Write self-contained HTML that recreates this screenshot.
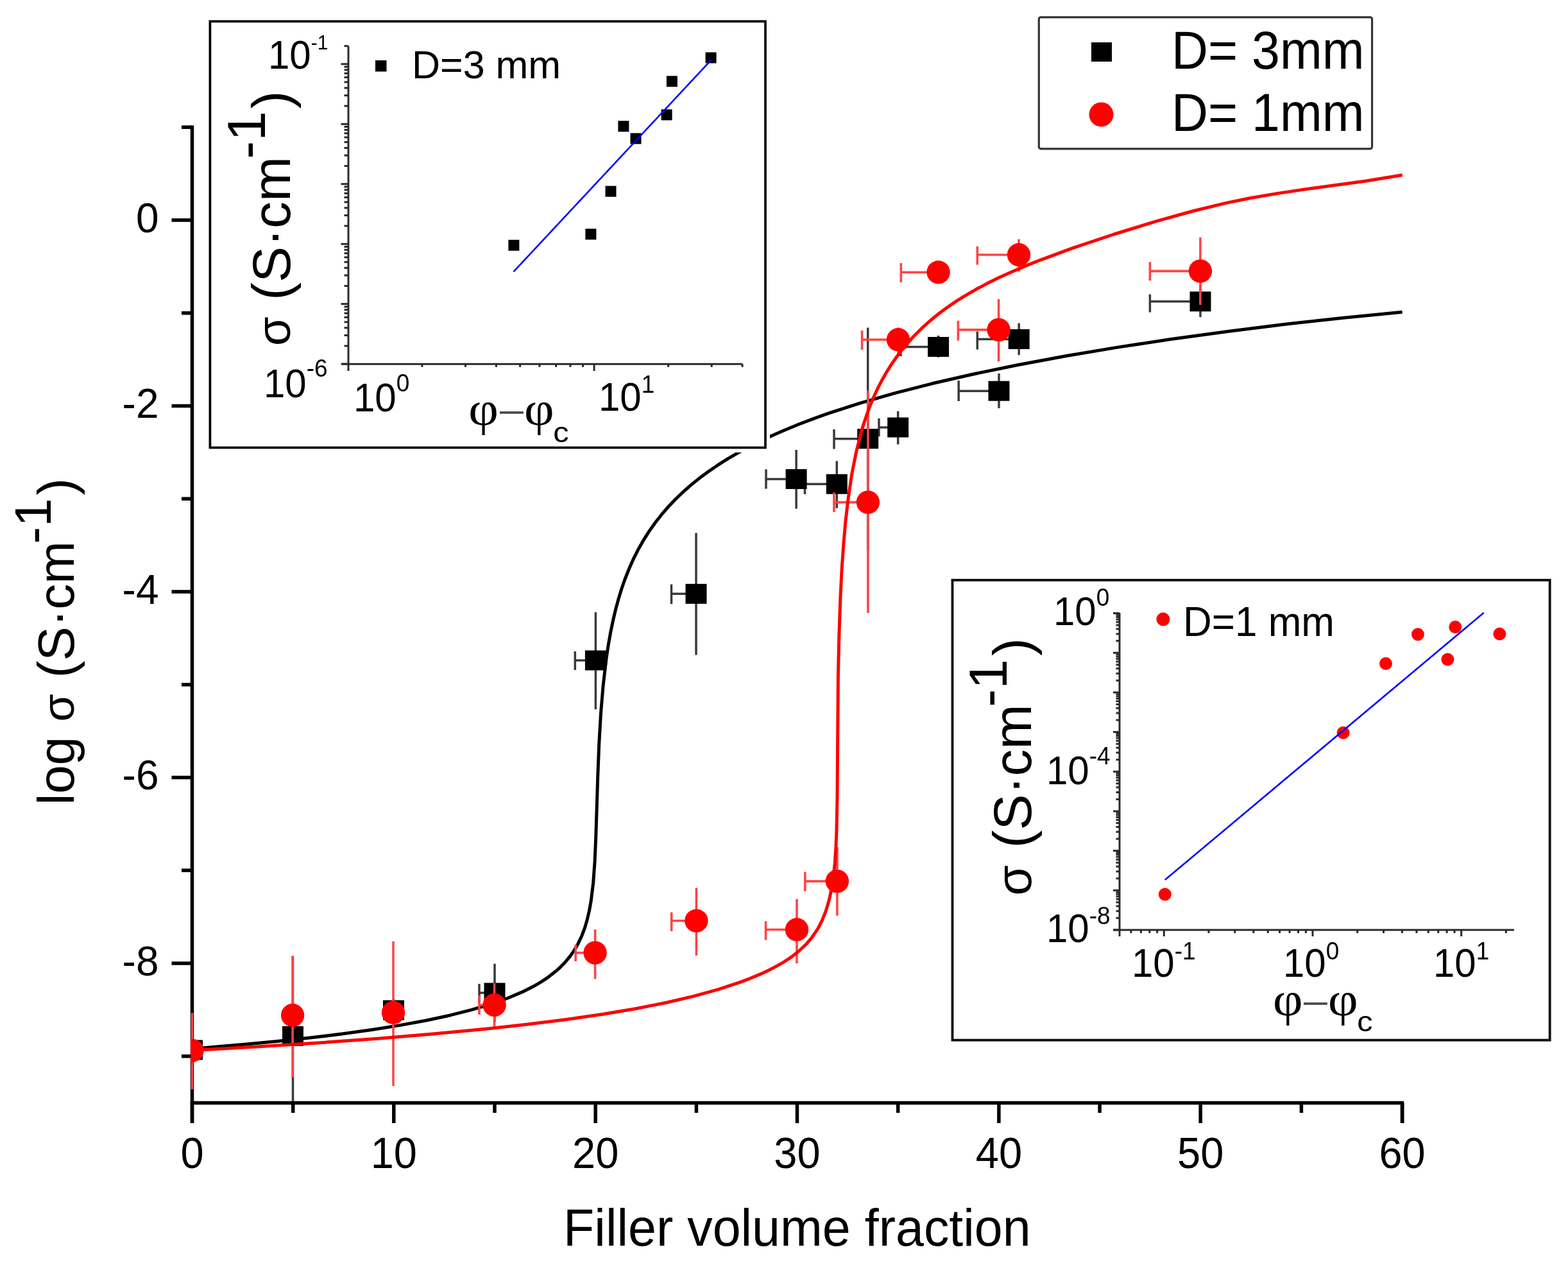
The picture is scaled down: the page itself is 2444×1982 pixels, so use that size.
<!DOCTYPE html>
<html><head><meta charset="utf-8"><title>Filler volume fraction plot</title>
<style>html,body{margin:0;padding:0;background:#fff;}svg{display:block;}</style></head>
<body><svg width="2444" height="1982" viewBox="0 0 2444 1982">
<rect width="2444" height="1982" fill="#fff"/>
<g id="main-axes">
<line x1="299.5" y1="195.5" x2="299.5" y2="1750.0" stroke="#000" stroke-width="5.5" stroke-linecap="butt"/>
<line x1="296.8" y1="1718.5" x2="2188.2" y2="1718.5" stroke="#000" stroke-width="5.5" stroke-linecap="butt"/>
<line x1="299.5" y1="1718.5" x2="299.5" y2="1750.0" stroke="#000" stroke-width="5.5" stroke-linecap="butt"/>
<line x1="613.8" y1="1718.5" x2="613.8" y2="1750.0" stroke="#000" stroke-width="5.5" stroke-linecap="butt"/>
<line x1="928.2" y1="1718.5" x2="928.2" y2="1750.0" stroke="#000" stroke-width="5.5" stroke-linecap="butt"/>
<line x1="1242.5" y1="1718.5" x2="1242.5" y2="1750.0" stroke="#000" stroke-width="5.5" stroke-linecap="butt"/>
<line x1="1556.9" y1="1718.5" x2="1556.9" y2="1750.0" stroke="#000" stroke-width="5.5" stroke-linecap="butt"/>
<line x1="1871.2" y1="1718.5" x2="1871.2" y2="1750.0" stroke="#000" stroke-width="5.5" stroke-linecap="butt"/>
<line x1="2185.6" y1="1718.5" x2="2185.6" y2="1750.0" stroke="#000" stroke-width="5.5" stroke-linecap="butt"/>
<line x1="456.7" y1="1718.5" x2="456.7" y2="1734.0" stroke="#000" stroke-width="5.5" stroke-linecap="butt"/>
<line x1="771.0" y1="1718.5" x2="771.0" y2="1734.0" stroke="#000" stroke-width="5.5" stroke-linecap="butt"/>
<line x1="1085.4" y1="1718.5" x2="1085.4" y2="1734.0" stroke="#000" stroke-width="5.5" stroke-linecap="butt"/>
<line x1="1399.7" y1="1718.5" x2="1399.7" y2="1734.0" stroke="#000" stroke-width="5.5" stroke-linecap="butt"/>
<line x1="1714.1" y1="1718.5" x2="1714.1" y2="1734.0" stroke="#000" stroke-width="5.5" stroke-linecap="butt"/>
<line x1="2028.4" y1="1718.5" x2="2028.4" y2="1734.0" stroke="#000" stroke-width="5.5" stroke-linecap="butt"/>
<line x1="267.5" y1="343.0" x2="299.5" y2="343.0" stroke="#000" stroke-width="5.5" stroke-linecap="butt"/>
<line x1="267.5" y1="632.5" x2="299.5" y2="632.5" stroke="#000" stroke-width="5.5" stroke-linecap="butt"/>
<line x1="267.5" y1="922.0" x2="299.5" y2="922.0" stroke="#000" stroke-width="5.5" stroke-linecap="butt"/>
<line x1="267.5" y1="1211.5" x2="299.5" y2="1211.5" stroke="#000" stroke-width="5.5" stroke-linecap="butt"/>
<line x1="267.5" y1="1501.0" x2="299.5" y2="1501.0" stroke="#000" stroke-width="5.5" stroke-linecap="butt"/>
<line x1="283.0" y1="198.2" x2="299.5" y2="198.2" stroke="#000" stroke-width="5.5" stroke-linecap="butt"/>
<line x1="283.0" y1="487.8" x2="299.5" y2="487.8" stroke="#000" stroke-width="5.5" stroke-linecap="butt"/>
<line x1="283.0" y1="777.2" x2="299.5" y2="777.2" stroke="#000" stroke-width="5.5" stroke-linecap="butt"/>
<line x1="283.0" y1="1066.8" x2="299.5" y2="1066.8" stroke="#000" stroke-width="5.5" stroke-linecap="butt"/>
<line x1="283.0" y1="1356.2" x2="299.5" y2="1356.2" stroke="#000" stroke-width="5.5" stroke-linecap="butt"/>
<line x1="283.0" y1="1645.8" x2="299.5" y2="1645.8" stroke="#000" stroke-width="5.5" stroke-linecap="butt"/>
<line x1="2185.6" y1="1718.5" x2="2185.6" y2="1750.0" stroke="#000" stroke-width="5.5" stroke-linecap="butt"/>
</g>
<text x="247.5" y="361.5" font-family='"Liberation Sans", Arial, sans-serif' font-size="64" text-anchor="end" fill="#000">0</text>
<text x="247.5" y="651.0" font-family='"Liberation Sans", Arial, sans-serif' font-size="64" text-anchor="end" fill="#000">-2</text>
<text x="247.5" y="940.5" font-family='"Liberation Sans", Arial, sans-serif' font-size="64" text-anchor="end" fill="#000">-4</text>
<text x="247.5" y="1230.0" font-family='"Liberation Sans", Arial, sans-serif' font-size="64" text-anchor="end" fill="#000">-6</text>
<text x="247.5" y="1519.5" font-family='"Liberation Sans", Arial, sans-serif' font-size="64" text-anchor="end" fill="#000">-8</text>
<text transform="translate(299.5,1819.5) scale(1,1.045)" font-family='"Liberation Sans", Arial, sans-serif' font-size="65" text-anchor="middle" fill="#000">0</text>
<text transform="translate(613.8,1819.5) scale(1,1.045)" font-family='"Liberation Sans", Arial, sans-serif' font-size="65" text-anchor="middle" fill="#000">10</text>
<text transform="translate(928.2,1819.5) scale(1,1.045)" font-family='"Liberation Sans", Arial, sans-serif' font-size="65" text-anchor="middle" fill="#000">20</text>
<text transform="translate(1242.5,1819.5) scale(1,1.045)" font-family='"Liberation Sans", Arial, sans-serif' font-size="65" text-anchor="middle" fill="#000">30</text>
<text transform="translate(1556.9,1819.5) scale(1,1.045)" font-family='"Liberation Sans", Arial, sans-serif' font-size="65" text-anchor="middle" fill="#000">40</text>
<text transform="translate(1871.2,1819.5) scale(1,1.045)" font-family='"Liberation Sans", Arial, sans-serif' font-size="65" text-anchor="middle" fill="#000">50</text>
<text transform="translate(2185.6,1819.5) scale(1,1.045)" font-family='"Liberation Sans", Arial, sans-serif' font-size="65" text-anchor="middle" fill="#000">60</text>
<text transform="translate(1242.4,1940.9) scale(1,1.04)" font-family='"Liberation Sans", Arial, sans-serif' font-size="79" text-anchor="middle" fill="#000">Filler volume fraction</text>
<text transform="translate(115.3,1254.4) rotate(-90)" font-family='"Liberation Sans", Arial, sans-serif' font-size="80">log</text>
<text transform="translate(115.3,1124.5) rotate(-90)" font-family='"Liberation Sans", Arial, sans-serif' font-size="70">σ</text>
<text transform="translate(115.3,1056.3) rotate(-90)" font-family='"Liberation Sans", Arial, sans-serif' font-size="80">(S·cm</text>
<text transform="translate(79.0,847.4) rotate(-90)" font-family='"Liberation Sans", Arial, sans-serif' font-size="80">-1</text>
<text transform="translate(115.3,771.8) rotate(-90)" font-family='"Liberation Sans", Arial, sans-serif' font-size="80">)</text>
<defs><clipPath id="plotclip"><rect x="297" y="190" width="1892" height="1526"/></clipPath></defs>
<g clip-path="url(#plotclip)">
<line x1="456.5" y1="1490.0" x2="456.5" y2="1735.0" stroke="#3a3a3a" stroke-width="3.5" stroke-linecap="butt"/>
<line x1="613.5" y1="1556.0" x2="613.5" y2="1592.0" stroke="#3a3a3a" stroke-width="3.5" stroke-linecap="butt"/>
<line x1="771.0" y1="1501.6" x2="771.0" y2="1592.0" stroke="#3a3a3a" stroke-width="3.5" stroke-linecap="butt"/>
<line x1="747.0" y1="1547.0" x2="771.0" y2="1547.0" stroke="#3a3a3a" stroke-width="3.5" stroke-linecap="butt"/>
<line x1="747.0" y1="1533.0" x2="747.0" y2="1563.0" stroke="#3a3a3a" stroke-width="3.5" stroke-linecap="butt"/>
<line x1="928.4" y1="954.1" x2="928.4" y2="1105.2" stroke="#3a3a3a" stroke-width="3.5" stroke-linecap="butt"/>
<line x1="896.3" y1="1029.0" x2="928.4" y2="1029.0" stroke="#3a3a3a" stroke-width="3.5" stroke-linecap="butt"/>
<line x1="896.3" y1="1015.0" x2="896.3" y2="1044.0" stroke="#3a3a3a" stroke-width="3.5" stroke-linecap="butt"/>
<line x1="1085.0" y1="830.4" x2="1085.0" y2="1020.5" stroke="#3a3a3a" stroke-width="3.5" stroke-linecap="butt"/>
<line x1="1046.5" y1="925.3" x2="1085.0" y2="925.3" stroke="#3a3a3a" stroke-width="3.5" stroke-linecap="butt"/>
<line x1="1046.5" y1="910.5" x2="1046.5" y2="941.0" stroke="#3a3a3a" stroke-width="3.5" stroke-linecap="butt"/>
<line x1="1241.1" y1="701.0" x2="1241.1" y2="792.7" stroke="#3a3a3a" stroke-width="3.5" stroke-linecap="butt"/>
<line x1="1194.0" y1="746.5" x2="1241.1" y2="746.5" stroke="#3a3a3a" stroke-width="3.5" stroke-linecap="butt"/>
<line x1="1194.0" y1="731.3" x2="1194.0" y2="761.6" stroke="#3a3a3a" stroke-width="3.5" stroke-linecap="butt"/>
<line x1="1304.3" y1="718.4" x2="1304.3" y2="791.8" stroke="#3a3a3a" stroke-width="3.5" stroke-linecap="butt"/>
<line x1="1254.5" y1="754.3" x2="1304.3" y2="754.3" stroke="#3a3a3a" stroke-width="3.5" stroke-linecap="butt"/>
<line x1="1254.5" y1="740.0" x2="1254.5" y2="770.0" stroke="#3a3a3a" stroke-width="3.5" stroke-linecap="butt"/>
<line x1="1352.7" y1="510.4" x2="1352.7" y2="857.0" stroke="#3a3a3a" stroke-width="3.5" stroke-linecap="butt"/>
<line x1="1300.0" y1="683.7" x2="1352.7" y2="683.7" stroke="#3a3a3a" stroke-width="3.5" stroke-linecap="butt"/>
<line x1="1300.0" y1="669.0" x2="1300.0" y2="699.6" stroke="#3a3a3a" stroke-width="3.5" stroke-linecap="butt"/>
<line x1="1399.7" y1="640.7" x2="1399.7" y2="692.5" stroke="#3a3a3a" stroke-width="3.5" stroke-linecap="butt"/>
<line x1="1370.0" y1="666.0" x2="1399.7" y2="666.0" stroke="#3a3a3a" stroke-width="3.5" stroke-linecap="butt"/>
<line x1="1370.0" y1="652.0" x2="1370.0" y2="680.0" stroke="#3a3a3a" stroke-width="3.5" stroke-linecap="butt"/>
<line x1="1462.6" y1="522.9" x2="1462.6" y2="556.8" stroke="#3a3a3a" stroke-width="3.5" stroke-linecap="butt"/>
<line x1="1404.0" y1="540.5" x2="1462.6" y2="540.5" stroke="#3a3a3a" stroke-width="3.5" stroke-linecap="butt"/>
<line x1="1404.0" y1="525.0" x2="1404.0" y2="555.0" stroke="#3a3a3a" stroke-width="3.5" stroke-linecap="butt"/>
<line x1="1557.0" y1="582.0" x2="1557.0" y2="636.1" stroke="#3a3a3a" stroke-width="3.5" stroke-linecap="butt"/>
<line x1="1494.2" y1="609.2" x2="1557.0" y2="609.2" stroke="#3a3a3a" stroke-width="3.5" stroke-linecap="butt"/>
<line x1="1494.2" y1="593.0" x2="1494.2" y2="625.0" stroke="#3a3a3a" stroke-width="3.5" stroke-linecap="butt"/>
<line x1="1588.2" y1="503.5" x2="1588.2" y2="553.2" stroke="#3a3a3a" stroke-width="3.5" stroke-linecap="butt"/>
<line x1="1523.3" y1="528.5" x2="1588.2" y2="528.5" stroke="#3a3a3a" stroke-width="3.5" stroke-linecap="butt"/>
<line x1="1523.3" y1="516.5" x2="1523.3" y2="544.6" stroke="#3a3a3a" stroke-width="3.5" stroke-linecap="butt"/>
<line x1="1871.0" y1="445.0" x2="1871.0" y2="494.1" stroke="#3a3a3a" stroke-width="3.5" stroke-linecap="butt"/>
<line x1="1792.4" y1="469.8" x2="1871.0" y2="469.8" stroke="#3a3a3a" stroke-width="3.5" stroke-linecap="butt"/>
<line x1="1792.4" y1="458.6" x2="1792.4" y2="486.6" stroke="#3a3a3a" stroke-width="3.5" stroke-linecap="butt"/>
<rect x="283.0" y="1620.5" width="33" height="31" fill="#000"/>
<rect x="440.0" y="1599.0" width="33" height="31" fill="#000"/>
<rect x="597.0" y="1558.5" width="33" height="31" fill="#000"/>
<rect x="754.5" y="1531.5" width="33" height="31" fill="#000"/>
<rect x="911.9" y="1013.5" width="33" height="31" fill="#000"/>
<rect x="1068.5" y="909.8" width="33" height="31" fill="#000"/>
<rect x="1224.6" y="731.0" width="33" height="31" fill="#000"/>
<rect x="1287.8" y="738.8" width="33" height="31" fill="#000"/>
<rect x="1336.2" y="668.2" width="33" height="31" fill="#000"/>
<rect x="1383.2" y="650.5" width="33" height="31" fill="#000"/>
<rect x="1446.1" y="525.0" width="33" height="31" fill="#000"/>
<rect x="1540.5" y="593.7" width="33" height="31" fill="#000"/>
<rect x="1571.7" y="513.0" width="33" height="31" fill="#000"/>
<rect x="1854.5" y="454.3" width="33" height="31" fill="#000"/>
<path d="M299.4,1634.3 L378.6,1627.6 L429.6,1622.8 L483.3,1617.1 L533.0,1611.1 L580.0,1604.5 L624.3,1597.4 L664.6,1590.0 L700.8,1582.2 L734.4,1573.7 L763.9,1565.0 L790.8,1555.5 L813.6,1545.9 L833.8,1535.7 L843.2,1530.1 L852.6,1523.9 L867.4,1512.5 L874.1,1506.3 L880.8,1499.4 L888.9,1489.7 L895.6,1479.9 L900.9,1470.7 L906.8,1458.2 L911.4,1446.1 L915.3,1432.9 L918.6,1418.5 L921.4,1402.7 L924.7,1375.5 L927.1,1342.1 L928.7,1305.8 L931.8,1208.5 L933.7,1160.0 L936.5,1111.4 L940.1,1068.5 L945.2,1024.7 L948.3,1004.5 L951.7,985.2 L955.5,966.9 L959.6,949.6 L964.1,933.0 L969.0,917.0 L973.9,903.0 L980.5,886.3 L987.0,871.7 L995.2,855.4 L1003.4,841.1 L1011.6,828.1 L1021.4,814.2 L1031.3,801.7 L1041.1,790.3 L1052.5,778.2 L1064.0,767.2 L1077.1,755.6 L1090.2,745.1 L1104.9,734.2 L1119.6,724.2 L1134.3,714.9 L1150.6,705.4 L1167.0,696.5 L1184.9,687.4 L1204.5,678.2 L1224.1,669.7 L1245.3,661.0 L1268.1,652.3 L1291.0,644.1 L1339.9,628.3 L1393.7,612.8 L1452.3,597.8 L1515.8,583.2 L1585.9,568.8 L1662.4,554.5 L1742.2,541.1 L1825.3,528.5 L1913.3,516.4 L2002.9,505.3 L2094.2,495.2 L2185.6,486.3" fill="none" stroke="#000" stroke-width="5" stroke-linejoin="round"/>
<line x1="299.5" y1="1578.4" x2="299.5" y2="1697.3" stroke="#ff4444" stroke-width="3.6" stroke-linecap="butt"/>
<line x1="456.1" y1="1489.2" x2="456.1" y2="1678.6" stroke="#ff4444" stroke-width="3.6" stroke-linecap="butt"/>
<line x1="613.0" y1="1466.8" x2="613.0" y2="1692.0" stroke="#ff4444" stroke-width="3.6" stroke-linecap="butt"/>
<line x1="770.6" y1="1532.0" x2="770.6" y2="1600.2" stroke="#ff4444" stroke-width="3.6" stroke-linecap="butt"/>
<line x1="747.0" y1="1566.0" x2="770.6" y2="1566.0" stroke="#ff4444" stroke-width="3.6" stroke-linecap="butt"/>
<line x1="747.0" y1="1551.0" x2="747.0" y2="1581.0" stroke="#ff4444" stroke-width="3.6" stroke-linecap="butt"/>
<line x1="927.6" y1="1448.2" x2="927.6" y2="1525.4" stroke="#ff4444" stroke-width="3.6" stroke-linecap="butt"/>
<line x1="897.2" y1="1484.6" x2="927.6" y2="1484.6" stroke="#ff4444" stroke-width="3.6" stroke-linecap="butt"/>
<line x1="897.2" y1="1472.0" x2="897.2" y2="1498.0" stroke="#ff4444" stroke-width="3.6" stroke-linecap="butt"/>
<line x1="1085.4" y1="1383.5" x2="1085.4" y2="1488.9" stroke="#ff4444" stroke-width="3.6" stroke-linecap="butt"/>
<line x1="1046.7" y1="1434.7" x2="1085.4" y2="1434.7" stroke="#ff4444" stroke-width="3.6" stroke-linecap="butt"/>
<line x1="1046.7" y1="1421.5" x2="1046.7" y2="1450.9" stroke="#ff4444" stroke-width="3.6" stroke-linecap="butt"/>
<line x1="1242.0" y1="1400.8" x2="1242.0" y2="1501.0" stroke="#ff4444" stroke-width="3.6" stroke-linecap="butt"/>
<line x1="1193.6" y1="1448.5" x2="1242.0" y2="1448.5" stroke="#ff4444" stroke-width="3.6" stroke-linecap="butt"/>
<line x1="1193.6" y1="1435.3" x2="1193.6" y2="1464.7" stroke="#ff4444" stroke-width="3.6" stroke-linecap="butt"/>
<line x1="1304.9" y1="1320.0" x2="1304.9" y2="1426.7" stroke="#ff4444" stroke-width="3.6" stroke-linecap="butt"/>
<line x1="1254.8" y1="1373.1" x2="1304.9" y2="1373.1" stroke="#ff4444" stroke-width="3.6" stroke-linecap="butt"/>
<line x1="1254.8" y1="1358.6" x2="1254.8" y2="1388.7" stroke="#ff4444" stroke-width="3.6" stroke-linecap="butt"/>
<line x1="1352.9" y1="608.6" x2="1352.9" y2="955.0" stroke="#ff4444" stroke-width="3.6" stroke-linecap="butt"/>
<line x1="1300.0" y1="782.6" x2="1352.9" y2="782.6" stroke="#ff4444" stroke-width="3.6" stroke-linecap="butt"/>
<line x1="1300.0" y1="767.5" x2="1300.0" y2="797.9" stroke="#ff4444" stroke-width="3.6" stroke-linecap="butt"/>
<line x1="1400.0" y1="510.4" x2="1400.0" y2="555.0" stroke="#ff4444" stroke-width="3.6" stroke-linecap="butt"/>
<line x1="1343.6" y1="529.3" x2="1400.0" y2="529.3" stroke="#ff4444" stroke-width="3.6" stroke-linecap="butt"/>
<line x1="1343.6" y1="515.0" x2="1343.6" y2="545.0" stroke="#ff4444" stroke-width="3.6" stroke-linecap="butt"/>
<line x1="1404.4" y1="424.2" x2="1462.6" y2="424.2" stroke="#ff4444" stroke-width="3.6" stroke-linecap="butt"/>
<line x1="1404.4" y1="410.0" x2="1404.4" y2="440.0" stroke="#ff4444" stroke-width="3.6" stroke-linecap="butt"/>
<line x1="1556.6" y1="466.1" x2="1556.6" y2="563.2" stroke="#ff4444" stroke-width="3.6" stroke-linecap="butt"/>
<line x1="1493.4" y1="513.9" x2="1556.6" y2="513.9" stroke="#ff4444" stroke-width="3.6" stroke-linecap="butt"/>
<line x1="1493.4" y1="499.7" x2="1493.4" y2="530.7" stroke="#ff4444" stroke-width="3.6" stroke-linecap="butt"/>
<line x1="1588.0" y1="372.7" x2="1588.0" y2="423.1" stroke="#ff4444" stroke-width="3.6" stroke-linecap="butt"/>
<line x1="1523.3" y1="397.0" x2="1588.0" y2="397.0" stroke="#ff4444" stroke-width="3.6" stroke-linecap="butt"/>
<line x1="1523.3" y1="383.9" x2="1523.3" y2="412.6" stroke="#ff4444" stroke-width="3.6" stroke-linecap="butt"/>
<line x1="1870.9" y1="370.0" x2="1870.9" y2="475.0" stroke="#ff4444" stroke-width="3.6" stroke-linecap="butt"/>
<line x1="1792.4" y1="422.4" x2="1870.9" y2="422.4" stroke="#ff4444" stroke-width="3.6" stroke-linecap="butt"/>
<line x1="1792.4" y1="408.2" x2="1792.4" y2="437.3" stroke="#ff4444" stroke-width="3.6" stroke-linecap="butt"/>
<circle cx="299.5" cy="1637.0" r="18.2" fill="#ff0000"/>
<circle cx="456.1" cy="1582.0" r="18.2" fill="#ff0000"/>
<circle cx="613.0" cy="1577.8" r="18.2" fill="#ff0000"/>
<circle cx="770.6" cy="1566.0" r="18.2" fill="#ff0000"/>
<circle cx="927.6" cy="1484.6" r="18.2" fill="#ff0000"/>
<circle cx="1085.4" cy="1434.7" r="18.2" fill="#ff0000"/>
<circle cx="1242.0" cy="1448.5" r="18.2" fill="#ff0000"/>
<circle cx="1304.9" cy="1373.1" r="18.2" fill="#ff0000"/>
<circle cx="1352.9" cy="782.6" r="18.2" fill="#ff0000"/>
<circle cx="1400.0" cy="529.3" r="18.2" fill="#ff0000"/>
<circle cx="1462.6" cy="424.2" r="18.2" fill="#ff0000"/>
<circle cx="1556.6" cy="513.9" r="18.2" fill="#ff0000"/>
<circle cx="1588.0" cy="397.0" r="18.2" fill="#ff0000"/>
<circle cx="1870.9" cy="422.4" r="18.2" fill="#ff0000"/>
<path d="M299.5,1636.8 L408.0,1630.6 L503.6,1624.4 L592.6,1617.9 L675.1,1611.0 L748.9,1604.1 L818.4,1596.6 L881.3,1588.7 L939.9,1580.3 L992.0,1571.5 L1039.7,1562.0 L1080.8,1552.4 L1119.8,1541.6 L1154.5,1530.1 L1169.8,1524.3 L1185.1,1517.9 L1198.3,1511.8 L1211.5,1504.9 L1222.7,1498.4 L1233.9,1490.9 L1245.2,1482.0 L1256.5,1471.3 L1265.6,1460.6 L1274.6,1447.3 L1281.6,1433.9 L1287.4,1419.1 L1292.3,1402.5 L1296.3,1384.2 L1299.1,1365.6 L1301.3,1344.7 L1302.9,1321.3 L1304.0,1293.3 L1305.0,1241.1 L1306.4,1054.2 L1307.8,991.6 L1309.8,934.2 L1312.0,888.9 L1314.8,848.4 L1318.0,811.7 L1321.9,778.1 L1327.6,739.6 L1334.5,704.5 L1342.3,673.7 L1346.6,659.2 L1352.1,643.2 L1357.5,628.9 L1363.0,616.0 L1368.5,604.3 L1375.2,591.4 L1381.9,579.8 L1388.6,569.0 L1396.5,557.6 L1404.4,547.0 L1414.6,534.6 L1424.8,523.4 L1436.3,511.9 L1448.9,500.5 L1461.5,490.1 L1475.4,479.7 L1490.4,469.4 L1505.4,460.1 L1521.5,450.8 L1538.8,441.6 L1557.2,432.6 L1576.7,423.7 L1598.4,414.4 L1621.2,405.3 L1671.0,386.9 L1736.4,365.0 L1802.7,344.6 L1858.9,329.0 L1910.8,316.4 L1948.2,308.8 L1988.1,301.9 L2028.0,295.9 L2129.2,281.9 L2185.8,272.8" fill="none" stroke="#ff0000" stroke-width="5" stroke-linejoin="round"/>
</g>
<rect x="1619.3" y="26.8" width="519.3" height="205" rx="3" fill="#fff" stroke="#333" stroke-width="3.2"/>
<rect x="1701" y="66" width="32" height="30" fill="#000"/>
<circle cx="1716.5" cy="178.4" r="19" fill="#ff0000"/>
<text transform="translate(1826.0,107.0) scale(1,1.045)" font-family='"Liberation Sans", Arial, sans-serif' font-size="79" text-anchor="start" fill="#000">D= 3mm</text>
<text transform="translate(1826.0,204.0) scale(1,1.045)" font-family='"Liberation Sans", Arial, sans-serif' font-size="79" text-anchor="start" fill="#000">D= 1mm</text>
<rect x="321" y="26" width="879" height="679" fill="#fff"/>
<rect x="327.4" y="33.3" width="865.6" height="664.2" fill="#fff" stroke="#000" stroke-width="3.7"/>
<line x1="543.0" y1="71.8" x2="543.0" y2="578.0" stroke="#2a2a2a" stroke-width="3" stroke-linecap="butt"/>
<line x1="533.0" y1="567.3" x2="1157.3" y2="567.3" stroke="#2a2a2a" stroke-width="3" stroke-linecap="butt"/>
<line x1="531.5" y1="567.1" x2="543.0" y2="567.1" stroke="#2a2a2a" stroke-width="3" stroke-linecap="butt"/>
<line x1="536.5" y1="539.0" x2="543.0" y2="539.0" stroke="#2a2a2a" stroke-width="3" stroke-linecap="butt"/>
<line x1="536.5" y1="522.5" x2="543.0" y2="522.5" stroke="#2a2a2a" stroke-width="3" stroke-linecap="butt"/>
<line x1="536.5" y1="510.8" x2="543.0" y2="510.8" stroke="#2a2a2a" stroke-width="3" stroke-linecap="butt"/>
<line x1="536.5" y1="501.8" x2="543.0" y2="501.8" stroke="#2a2a2a" stroke-width="3" stroke-linecap="butt"/>
<line x1="536.5" y1="494.4" x2="543.0" y2="494.4" stroke="#2a2a2a" stroke-width="3" stroke-linecap="butt"/>
<line x1="536.5" y1="488.1" x2="543.0" y2="488.1" stroke="#2a2a2a" stroke-width="3" stroke-linecap="butt"/>
<line x1="536.5" y1="482.7" x2="543.0" y2="482.7" stroke="#2a2a2a" stroke-width="3" stroke-linecap="butt"/>
<line x1="536.5" y1="477.9" x2="543.0" y2="477.9" stroke="#2a2a2a" stroke-width="3" stroke-linecap="butt"/>
<line x1="531.5" y1="473.6" x2="543.0" y2="473.6" stroke="#2a2a2a" stroke-width="3" stroke-linecap="butt"/>
<line x1="536.5" y1="445.5" x2="543.0" y2="445.5" stroke="#2a2a2a" stroke-width="3" stroke-linecap="butt"/>
<line x1="536.5" y1="429.0" x2="543.0" y2="429.0" stroke="#2a2a2a" stroke-width="3" stroke-linecap="butt"/>
<line x1="536.5" y1="417.4" x2="543.0" y2="417.4" stroke="#2a2a2a" stroke-width="3" stroke-linecap="butt"/>
<line x1="536.5" y1="408.3" x2="543.0" y2="408.3" stroke="#2a2a2a" stroke-width="3" stroke-linecap="butt"/>
<line x1="536.5" y1="400.9" x2="543.0" y2="400.9" stroke="#2a2a2a" stroke-width="3" stroke-linecap="butt"/>
<line x1="536.5" y1="394.7" x2="543.0" y2="394.7" stroke="#2a2a2a" stroke-width="3" stroke-linecap="butt"/>
<line x1="536.5" y1="389.2" x2="543.0" y2="389.2" stroke="#2a2a2a" stroke-width="3" stroke-linecap="butt"/>
<line x1="536.5" y1="384.5" x2="543.0" y2="384.5" stroke="#2a2a2a" stroke-width="3" stroke-linecap="butt"/>
<line x1="531.5" y1="380.2" x2="543.0" y2="380.2" stroke="#2a2a2a" stroke-width="3" stroke-linecap="butt"/>
<line x1="536.5" y1="352.0" x2="543.0" y2="352.0" stroke="#2a2a2a" stroke-width="3" stroke-linecap="butt"/>
<line x1="536.5" y1="335.6" x2="543.0" y2="335.6" stroke="#2a2a2a" stroke-width="3" stroke-linecap="butt"/>
<line x1="536.5" y1="323.9" x2="543.0" y2="323.9" stroke="#2a2a2a" stroke-width="3" stroke-linecap="butt"/>
<line x1="536.5" y1="314.9" x2="543.0" y2="314.9" stroke="#2a2a2a" stroke-width="3" stroke-linecap="butt"/>
<line x1="536.5" y1="307.5" x2="543.0" y2="307.5" stroke="#2a2a2a" stroke-width="3" stroke-linecap="butt"/>
<line x1="536.5" y1="301.2" x2="543.0" y2="301.2" stroke="#2a2a2a" stroke-width="3" stroke-linecap="butt"/>
<line x1="536.5" y1="295.8" x2="543.0" y2="295.8" stroke="#2a2a2a" stroke-width="3" stroke-linecap="butt"/>
<line x1="536.5" y1="291.0" x2="543.0" y2="291.0" stroke="#2a2a2a" stroke-width="3" stroke-linecap="butt"/>
<line x1="531.5" y1="286.7" x2="543.0" y2="286.7" stroke="#2a2a2a" stroke-width="3" stroke-linecap="butt"/>
<line x1="536.5" y1="258.6" x2="543.0" y2="258.6" stroke="#2a2a2a" stroke-width="3" stroke-linecap="butt"/>
<line x1="536.5" y1="242.1" x2="543.0" y2="242.1" stroke="#2a2a2a" stroke-width="3" stroke-linecap="butt"/>
<line x1="536.5" y1="230.5" x2="543.0" y2="230.5" stroke="#2a2a2a" stroke-width="3" stroke-linecap="butt"/>
<line x1="536.5" y1="221.4" x2="543.0" y2="221.4" stroke="#2a2a2a" stroke-width="3" stroke-linecap="butt"/>
<line x1="536.5" y1="214.0" x2="543.0" y2="214.0" stroke="#2a2a2a" stroke-width="3" stroke-linecap="butt"/>
<line x1="536.5" y1="207.7" x2="543.0" y2="207.7" stroke="#2a2a2a" stroke-width="3" stroke-linecap="butt"/>
<line x1="536.5" y1="202.3" x2="543.0" y2="202.3" stroke="#2a2a2a" stroke-width="3" stroke-linecap="butt"/>
<line x1="536.5" y1="197.5" x2="543.0" y2="197.5" stroke="#2a2a2a" stroke-width="3" stroke-linecap="butt"/>
<line x1="531.5" y1="193.3" x2="543.0" y2="193.3" stroke="#2a2a2a" stroke-width="3" stroke-linecap="butt"/>
<line x1="536.5" y1="165.1" x2="543.0" y2="165.1" stroke="#2a2a2a" stroke-width="3" stroke-linecap="butt"/>
<line x1="536.5" y1="148.7" x2="543.0" y2="148.7" stroke="#2a2a2a" stroke-width="3" stroke-linecap="butt"/>
<line x1="536.5" y1="137.0" x2="543.0" y2="137.0" stroke="#2a2a2a" stroke-width="3" stroke-linecap="butt"/>
<line x1="536.5" y1="127.9" x2="543.0" y2="127.9" stroke="#2a2a2a" stroke-width="3" stroke-linecap="butt"/>
<line x1="536.5" y1="120.5" x2="543.0" y2="120.5" stroke="#2a2a2a" stroke-width="3" stroke-linecap="butt"/>
<line x1="536.5" y1="114.3" x2="543.0" y2="114.3" stroke="#2a2a2a" stroke-width="3" stroke-linecap="butt"/>
<line x1="536.5" y1="108.9" x2="543.0" y2="108.9" stroke="#2a2a2a" stroke-width="3" stroke-linecap="butt"/>
<line x1="536.5" y1="104.1" x2="543.0" y2="104.1" stroke="#2a2a2a" stroke-width="3" stroke-linecap="butt"/>
<line x1="531.5" y1="99.8" x2="543.0" y2="99.8" stroke="#2a2a2a" stroke-width="3" stroke-linecap="butt"/>
<line x1="536.5" y1="71.7" x2="543.0" y2="71.7" stroke="#2a2a2a" stroke-width="3" stroke-linecap="butt"/>
<line x1="657.9" y1="567.3" x2="657.9" y2="572.0" stroke="#2a2a2a" stroke-width="3" stroke-linecap="butt"/>
<line x1="725.5" y1="567.3" x2="725.5" y2="572.0" stroke="#2a2a2a" stroke-width="3" stroke-linecap="butt"/>
<line x1="773.4" y1="567.3" x2="773.4" y2="572.0" stroke="#2a2a2a" stroke-width="3" stroke-linecap="butt"/>
<line x1="810.6" y1="567.3" x2="810.6" y2="572.0" stroke="#2a2a2a" stroke-width="3" stroke-linecap="butt"/>
<line x1="841.0" y1="567.3" x2="841.0" y2="572.0" stroke="#2a2a2a" stroke-width="3" stroke-linecap="butt"/>
<line x1="866.7" y1="567.3" x2="866.7" y2="572.0" stroke="#2a2a2a" stroke-width="3" stroke-linecap="butt"/>
<line x1="888.9" y1="567.3" x2="888.9" y2="572.0" stroke="#2a2a2a" stroke-width="3" stroke-linecap="butt"/>
<line x1="908.5" y1="567.3" x2="908.5" y2="572.0" stroke="#2a2a2a" stroke-width="3" stroke-linecap="butt"/>
<line x1="1041.6" y1="567.3" x2="1041.6" y2="572.0" stroke="#2a2a2a" stroke-width="3" stroke-linecap="butt"/>
<line x1="1109.2" y1="567.3" x2="1109.2" y2="572.0" stroke="#2a2a2a" stroke-width="3" stroke-linecap="butt"/>
<line x1="1157.1" y1="567.3" x2="1157.1" y2="572.0" stroke="#2a2a2a" stroke-width="3" stroke-linecap="butt"/>
<line x1="926.1" y1="567.3" x2="926.1" y2="578.0" stroke="#2a2a2a" stroke-width="3" stroke-linecap="butt"/>
<rect x="792.4" y="373.7" width="17" height="17" fill="#000"/>
<rect x="912.4" y="356.4" width="17" height="17" fill="#000"/>
<rect x="943.5" y="289.7" width="17" height="17" fill="#000"/>
<rect x="963.4" y="188.3" width="17" height="17" fill="#000"/>
<rect x="982.5" y="207.4" width="17" height="17" fill="#000"/>
<rect x="1030.6" y="170.4" width="17" height="17" fill="#000"/>
<rect x="1038.9" y="118.3" width="17" height="17" fill="#000"/>
<rect x="1099.6" y="81.5" width="17" height="17" fill="#000"/>
<line x1="800.5" y1="423.4" x2="1108.1" y2="93.9" stroke="#0000ff" stroke-width="2.6" stroke-linecap="butt"/>
<rect x="585" y="94" width="17.5" height="17.5" fill="#000"/>
<text x="642.0" y="121.5" font-family='"Liberation Sans", Arial, sans-serif' font-size="61" text-anchor="start" fill="#000">D=3 mm</text>
<text transform="translate(418.0,106.5) scale(1,1.04)" font-family='"Liberation Sans", Arial, sans-serif' font-size="60" text-anchor="start">10<tspan font-size="30" dy="-27.9">-1</tspan></text>
<text transform="translate(411.0,619.0) scale(1,1.04)" font-family='"Liberation Sans", Arial, sans-serif' font-size="60" text-anchor="start">10<tspan font-size="37" dy="-30.3">-6</tspan></text>
<text transform="translate(551.0,640.5) scale(1,1.04)" font-family='"Liberation Sans", Arial, sans-serif' font-size="60" text-anchor="start">10<tspan font-size="37" dy="-29.3">0</tspan></text>
<text transform="translate(933.0,640.0) scale(1,1.04)" font-family='"Liberation Sans", Arial, sans-serif' font-size="60" text-anchor="start">10<tspan font-size="37" dy="-26.9">1</tspan></text>
<text transform="translate(730.2,662.1) scale(1.1,1)" font-family='"Liberation Serif", "Times New Roman", serif' font-size="73.5">φ</text>
<text transform="translate(775.4,661.3) scale(1,0.72)" font-family='"Liberation Sans", Arial, sans-serif' font-size="76" fill="#4a4a4a">−</text>
<text transform="translate(817.1,662.1) scale(1.1,1)" font-family='"Liberation Serif", "Times New Roman", serif' font-size="73.5">φ</text>
<text transform="translate(862.2,688.5) scale(1.08,1)" font-family='"Liberation Sans", Arial, sans-serif' font-size="45">c</text>
<text transform="translate(451.5,539.1) rotate(-90)" font-family='"Liberation Sans", Arial, sans-serif' font-size="74">σ</text>
<text transform="translate(451.5,468.0) rotate(-90)" font-family='"Liberation Sans", Arial, sans-serif' font-size="84">(S·cm</text>
<text transform="translate(412.5,247.7) rotate(-90)" font-family='"Liberation Sans", Arial, sans-serif' font-size="84">-1</text>
<text transform="translate(451.5,169.5) rotate(-90)" font-family='"Liberation Sans", Arial, sans-serif' font-size="84">)</text>
<rect x="1484.5" y="903.9" width="931.2" height="716.8" fill="#fff" stroke="#111" stroke-width="3.9"/>
<line x1="1745.0" y1="955.0" x2="1745.0" y2="1459.0" stroke="#2a2a2a" stroke-width="3" stroke-linecap="butt"/>
<line x1="1735.0" y1="1449.0" x2="2360.0" y2="1449.0" stroke="#2a2a2a" stroke-width="3" stroke-linecap="butt"/>
<line x1="1735.0" y1="1449.0" x2="1745.0" y2="1449.0" stroke="#2a2a2a" stroke-width="3" stroke-linecap="butt"/>
<line x1="1739.5" y1="1430.4" x2="1745.0" y2="1430.4" stroke="#2a2a2a" stroke-width="3" stroke-linecap="butt"/>
<line x1="1739.5" y1="1419.6" x2="1745.0" y2="1419.6" stroke="#2a2a2a" stroke-width="3" stroke-linecap="butt"/>
<line x1="1739.5" y1="1411.9" x2="1745.0" y2="1411.9" stroke="#2a2a2a" stroke-width="3" stroke-linecap="butt"/>
<line x1="1739.5" y1="1405.9" x2="1745.0" y2="1405.9" stroke="#2a2a2a" stroke-width="3" stroke-linecap="butt"/>
<line x1="1739.5" y1="1401.0" x2="1745.0" y2="1401.0" stroke="#2a2a2a" stroke-width="3" stroke-linecap="butt"/>
<line x1="1739.5" y1="1396.9" x2="1745.0" y2="1396.9" stroke="#2a2a2a" stroke-width="3" stroke-linecap="butt"/>
<line x1="1739.5" y1="1393.3" x2="1745.0" y2="1393.3" stroke="#2a2a2a" stroke-width="3" stroke-linecap="butt"/>
<line x1="1739.5" y1="1390.2" x2="1745.0" y2="1390.2" stroke="#2a2a2a" stroke-width="3" stroke-linecap="butt"/>
<line x1="1735.0" y1="1387.3" x2="1745.0" y2="1387.3" stroke="#2a2a2a" stroke-width="3" stroke-linecap="butt"/>
<line x1="1739.5" y1="1368.8" x2="1745.0" y2="1368.8" stroke="#2a2a2a" stroke-width="3" stroke-linecap="butt"/>
<line x1="1739.5" y1="1357.9" x2="1745.0" y2="1357.9" stroke="#2a2a2a" stroke-width="3" stroke-linecap="butt"/>
<line x1="1739.5" y1="1350.2" x2="1745.0" y2="1350.2" stroke="#2a2a2a" stroke-width="3" stroke-linecap="butt"/>
<line x1="1739.5" y1="1344.2" x2="1745.0" y2="1344.2" stroke="#2a2a2a" stroke-width="3" stroke-linecap="butt"/>
<line x1="1739.5" y1="1339.3" x2="1745.0" y2="1339.3" stroke="#2a2a2a" stroke-width="3" stroke-linecap="butt"/>
<line x1="1739.5" y1="1335.2" x2="1745.0" y2="1335.2" stroke="#2a2a2a" stroke-width="3" stroke-linecap="butt"/>
<line x1="1739.5" y1="1331.6" x2="1745.0" y2="1331.6" stroke="#2a2a2a" stroke-width="3" stroke-linecap="butt"/>
<line x1="1739.5" y1="1328.5" x2="1745.0" y2="1328.5" stroke="#2a2a2a" stroke-width="3" stroke-linecap="butt"/>
<line x1="1735.0" y1="1325.6" x2="1745.0" y2="1325.6" stroke="#2a2a2a" stroke-width="3" stroke-linecap="butt"/>
<line x1="1739.5" y1="1307.1" x2="1745.0" y2="1307.1" stroke="#2a2a2a" stroke-width="3" stroke-linecap="butt"/>
<line x1="1739.5" y1="1296.2" x2="1745.0" y2="1296.2" stroke="#2a2a2a" stroke-width="3" stroke-linecap="butt"/>
<line x1="1739.5" y1="1288.5" x2="1745.0" y2="1288.5" stroke="#2a2a2a" stroke-width="3" stroke-linecap="butt"/>
<line x1="1739.5" y1="1282.5" x2="1745.0" y2="1282.5" stroke="#2a2a2a" stroke-width="3" stroke-linecap="butt"/>
<line x1="1739.5" y1="1277.6" x2="1745.0" y2="1277.6" stroke="#2a2a2a" stroke-width="3" stroke-linecap="butt"/>
<line x1="1739.5" y1="1273.5" x2="1745.0" y2="1273.5" stroke="#2a2a2a" stroke-width="3" stroke-linecap="butt"/>
<line x1="1739.5" y1="1269.9" x2="1745.0" y2="1269.9" stroke="#2a2a2a" stroke-width="3" stroke-linecap="butt"/>
<line x1="1739.5" y1="1266.8" x2="1745.0" y2="1266.8" stroke="#2a2a2a" stroke-width="3" stroke-linecap="butt"/>
<line x1="1735.0" y1="1264.0" x2="1745.0" y2="1264.0" stroke="#2a2a2a" stroke-width="3" stroke-linecap="butt"/>
<line x1="1739.5" y1="1245.4" x2="1745.0" y2="1245.4" stroke="#2a2a2a" stroke-width="3" stroke-linecap="butt"/>
<line x1="1739.5" y1="1234.5" x2="1745.0" y2="1234.5" stroke="#2a2a2a" stroke-width="3" stroke-linecap="butt"/>
<line x1="1739.5" y1="1226.8" x2="1745.0" y2="1226.8" stroke="#2a2a2a" stroke-width="3" stroke-linecap="butt"/>
<line x1="1739.5" y1="1220.8" x2="1745.0" y2="1220.8" stroke="#2a2a2a" stroke-width="3" stroke-linecap="butt"/>
<line x1="1739.5" y1="1215.9" x2="1745.0" y2="1215.9" stroke="#2a2a2a" stroke-width="3" stroke-linecap="butt"/>
<line x1="1739.5" y1="1211.8" x2="1745.0" y2="1211.8" stroke="#2a2a2a" stroke-width="3" stroke-linecap="butt"/>
<line x1="1739.5" y1="1208.2" x2="1745.0" y2="1208.2" stroke="#2a2a2a" stroke-width="3" stroke-linecap="butt"/>
<line x1="1739.5" y1="1205.1" x2="1745.0" y2="1205.1" stroke="#2a2a2a" stroke-width="3" stroke-linecap="butt"/>
<line x1="1735.0" y1="1202.3" x2="1745.0" y2="1202.3" stroke="#2a2a2a" stroke-width="3" stroke-linecap="butt"/>
<line x1="1739.5" y1="1183.7" x2="1745.0" y2="1183.7" stroke="#2a2a2a" stroke-width="3" stroke-linecap="butt"/>
<line x1="1739.5" y1="1172.8" x2="1745.0" y2="1172.8" stroke="#2a2a2a" stroke-width="3" stroke-linecap="butt"/>
<line x1="1739.5" y1="1165.1" x2="1745.0" y2="1165.1" stroke="#2a2a2a" stroke-width="3" stroke-linecap="butt"/>
<line x1="1739.5" y1="1159.1" x2="1745.0" y2="1159.1" stroke="#2a2a2a" stroke-width="3" stroke-linecap="butt"/>
<line x1="1739.5" y1="1154.3" x2="1745.0" y2="1154.3" stroke="#2a2a2a" stroke-width="3" stroke-linecap="butt"/>
<line x1="1739.5" y1="1150.1" x2="1745.0" y2="1150.1" stroke="#2a2a2a" stroke-width="3" stroke-linecap="butt"/>
<line x1="1739.5" y1="1146.5" x2="1745.0" y2="1146.5" stroke="#2a2a2a" stroke-width="3" stroke-linecap="butt"/>
<line x1="1739.5" y1="1143.4" x2="1745.0" y2="1143.4" stroke="#2a2a2a" stroke-width="3" stroke-linecap="butt"/>
<line x1="1735.0" y1="1140.6" x2="1745.0" y2="1140.6" stroke="#2a2a2a" stroke-width="3" stroke-linecap="butt"/>
<line x1="1739.5" y1="1122.0" x2="1745.0" y2="1122.0" stroke="#2a2a2a" stroke-width="3" stroke-linecap="butt"/>
<line x1="1739.5" y1="1111.1" x2="1745.0" y2="1111.1" stroke="#2a2a2a" stroke-width="3" stroke-linecap="butt"/>
<line x1="1739.5" y1="1103.4" x2="1745.0" y2="1103.4" stroke="#2a2a2a" stroke-width="3" stroke-linecap="butt"/>
<line x1="1739.5" y1="1097.5" x2="1745.0" y2="1097.5" stroke="#2a2a2a" stroke-width="3" stroke-linecap="butt"/>
<line x1="1739.5" y1="1092.6" x2="1745.0" y2="1092.6" stroke="#2a2a2a" stroke-width="3" stroke-linecap="butt"/>
<line x1="1739.5" y1="1088.4" x2="1745.0" y2="1088.4" stroke="#2a2a2a" stroke-width="3" stroke-linecap="butt"/>
<line x1="1739.5" y1="1084.9" x2="1745.0" y2="1084.9" stroke="#2a2a2a" stroke-width="3" stroke-linecap="butt"/>
<line x1="1739.5" y1="1081.7" x2="1745.0" y2="1081.7" stroke="#2a2a2a" stroke-width="3" stroke-linecap="butt"/>
<line x1="1735.0" y1="1078.9" x2="1745.0" y2="1078.9" stroke="#2a2a2a" stroke-width="3" stroke-linecap="butt"/>
<line x1="1739.5" y1="1060.3" x2="1745.0" y2="1060.3" stroke="#2a2a2a" stroke-width="3" stroke-linecap="butt"/>
<line x1="1739.5" y1="1049.4" x2="1745.0" y2="1049.4" stroke="#2a2a2a" stroke-width="3" stroke-linecap="butt"/>
<line x1="1739.5" y1="1041.7" x2="1745.0" y2="1041.7" stroke="#2a2a2a" stroke-width="3" stroke-linecap="butt"/>
<line x1="1739.5" y1="1035.8" x2="1745.0" y2="1035.8" stroke="#2a2a2a" stroke-width="3" stroke-linecap="butt"/>
<line x1="1739.5" y1="1030.9" x2="1745.0" y2="1030.9" stroke="#2a2a2a" stroke-width="3" stroke-linecap="butt"/>
<line x1="1739.5" y1="1026.7" x2="1745.0" y2="1026.7" stroke="#2a2a2a" stroke-width="3" stroke-linecap="butt"/>
<line x1="1739.5" y1="1023.2" x2="1745.0" y2="1023.2" stroke="#2a2a2a" stroke-width="3" stroke-linecap="butt"/>
<line x1="1739.5" y1="1020.0" x2="1745.0" y2="1020.0" stroke="#2a2a2a" stroke-width="3" stroke-linecap="butt"/>
<line x1="1735.0" y1="1017.2" x2="1745.0" y2="1017.2" stroke="#2a2a2a" stroke-width="3" stroke-linecap="butt"/>
<line x1="1739.5" y1="998.6" x2="1745.0" y2="998.6" stroke="#2a2a2a" stroke-width="3" stroke-linecap="butt"/>
<line x1="1739.5" y1="987.8" x2="1745.0" y2="987.8" stroke="#2a2a2a" stroke-width="3" stroke-linecap="butt"/>
<line x1="1739.5" y1="980.0" x2="1745.0" y2="980.0" stroke="#2a2a2a" stroke-width="3" stroke-linecap="butt"/>
<line x1="1739.5" y1="974.1" x2="1745.0" y2="974.1" stroke="#2a2a2a" stroke-width="3" stroke-linecap="butt"/>
<line x1="1739.5" y1="969.2" x2="1745.0" y2="969.2" stroke="#2a2a2a" stroke-width="3" stroke-linecap="butt"/>
<line x1="1739.5" y1="965.1" x2="1745.0" y2="965.1" stroke="#2a2a2a" stroke-width="3" stroke-linecap="butt"/>
<line x1="1739.5" y1="961.5" x2="1745.0" y2="961.5" stroke="#2a2a2a" stroke-width="3" stroke-linecap="butt"/>
<line x1="1739.5" y1="958.3" x2="1745.0" y2="958.3" stroke="#2a2a2a" stroke-width="3" stroke-linecap="butt"/>
<line x1="1735.0" y1="955.5" x2="1745.0" y2="955.5" stroke="#2a2a2a" stroke-width="3" stroke-linecap="butt"/>
<line x1="1762.9" y1="1449.0" x2="1762.9" y2="1454.0" stroke="#2a2a2a" stroke-width="3" stroke-linecap="butt"/>
<line x1="1778.4" y1="1449.0" x2="1778.4" y2="1454.0" stroke="#2a2a2a" stroke-width="3" stroke-linecap="butt"/>
<line x1="1791.8" y1="1449.0" x2="1791.8" y2="1454.0" stroke="#2a2a2a" stroke-width="3" stroke-linecap="butt"/>
<line x1="1803.7" y1="1449.0" x2="1803.7" y2="1454.0" stroke="#2a2a2a" stroke-width="3" stroke-linecap="butt"/>
<line x1="1814.3" y1="1449.0" x2="1814.3" y2="1459.0" stroke="#2a2a2a" stroke-width="3" stroke-linecap="butt"/>
<line x1="1884.0" y1="1449.0" x2="1884.0" y2="1454.0" stroke="#2a2a2a" stroke-width="3" stroke-linecap="butt"/>
<line x1="1924.8" y1="1449.0" x2="1924.8" y2="1454.0" stroke="#2a2a2a" stroke-width="3" stroke-linecap="butt"/>
<line x1="1953.8" y1="1449.0" x2="1953.8" y2="1454.0" stroke="#2a2a2a" stroke-width="3" stroke-linecap="butt"/>
<line x1="1976.3" y1="1449.0" x2="1976.3" y2="1454.0" stroke="#2a2a2a" stroke-width="3" stroke-linecap="butt"/>
<line x1="1994.6" y1="1449.0" x2="1994.6" y2="1454.0" stroke="#2a2a2a" stroke-width="3" stroke-linecap="butt"/>
<line x1="2010.1" y1="1449.0" x2="2010.1" y2="1454.0" stroke="#2a2a2a" stroke-width="3" stroke-linecap="butt"/>
<line x1="2023.5" y1="1449.0" x2="2023.5" y2="1454.0" stroke="#2a2a2a" stroke-width="3" stroke-linecap="butt"/>
<line x1="2035.4" y1="1449.0" x2="2035.4" y2="1454.0" stroke="#2a2a2a" stroke-width="3" stroke-linecap="butt"/>
<line x1="2046.0" y1="1449.0" x2="2046.0" y2="1459.0" stroke="#2a2a2a" stroke-width="3" stroke-linecap="butt"/>
<line x1="2115.7" y1="1449.0" x2="2115.7" y2="1454.0" stroke="#2a2a2a" stroke-width="3" stroke-linecap="butt"/>
<line x1="2156.5" y1="1449.0" x2="2156.5" y2="1454.0" stroke="#2a2a2a" stroke-width="3" stroke-linecap="butt"/>
<line x1="2185.5" y1="1449.0" x2="2185.5" y2="1454.0" stroke="#2a2a2a" stroke-width="3" stroke-linecap="butt"/>
<line x1="2208.0" y1="1449.0" x2="2208.0" y2="1454.0" stroke="#2a2a2a" stroke-width="3" stroke-linecap="butt"/>
<line x1="2226.3" y1="1449.0" x2="2226.3" y2="1454.0" stroke="#2a2a2a" stroke-width="3" stroke-linecap="butt"/>
<line x1="2241.8" y1="1449.0" x2="2241.8" y2="1454.0" stroke="#2a2a2a" stroke-width="3" stroke-linecap="butt"/>
<line x1="2255.2" y1="1449.0" x2="2255.2" y2="1454.0" stroke="#2a2a2a" stroke-width="3" stroke-linecap="butt"/>
<line x1="2267.1" y1="1449.0" x2="2267.1" y2="1454.0" stroke="#2a2a2a" stroke-width="3" stroke-linecap="butt"/>
<line x1="2277.7" y1="1449.0" x2="2277.7" y2="1459.0" stroke="#2a2a2a" stroke-width="3" stroke-linecap="butt"/>
<line x1="2347.4" y1="1449.0" x2="2347.4" y2="1454.0" stroke="#2a2a2a" stroke-width="3" stroke-linecap="butt"/>
<circle cx="1815.8" cy="1393.6" r="10" fill="#ff0000"/>
<circle cx="2093.7" cy="1141.8" r="10" fill="#ff0000"/>
<circle cx="2160.0" cy="1034.0" r="10" fill="#ff0000"/>
<circle cx="2210.0" cy="988.5" r="10" fill="#ff0000"/>
<circle cx="2256.4" cy="1027.5" r="10" fill="#ff0000"/>
<circle cx="2268.3" cy="977.0" r="10" fill="#ff0000"/>
<circle cx="2337.4" cy="987.8" r="10" fill="#ff0000"/>
<line x1="1815.8" y1="1371.1" x2="2312.7" y2="954.8" stroke="#0000ff" stroke-width="2.6" stroke-linecap="butt"/>
<circle cx="1812.9" cy="964.8" r="10.5" fill="#ff0000"/>
<text transform="translate(1844.0,991.0) scale(1,1.04)" font-family='"Liberation Sans", Arial, sans-serif' font-size="62" text-anchor="start" fill="#000">D=1 mm</text>
<text transform="translate(1642.0,973.5) scale(1,1.04)" font-family='"Liberation Sans", Arial, sans-serif' font-size="60" text-anchor="start">10<tspan font-size="37" dy="-28.8">0</tspan></text>
<text transform="translate(1631.0,1221.5) scale(1,1.04)" font-family='"Liberation Sans", Arial, sans-serif' font-size="60" text-anchor="start">10<tspan font-size="37" dy="-29.8">-4</tspan></text>
<text transform="translate(1631.0,1467.5) scale(1,1.04)" font-family='"Liberation Sans", Arial, sans-serif' font-size="60" text-anchor="start">10<tspan font-size="37" dy="-26.9">-8</tspan></text>
<text transform="translate(1764.0,1522.0) scale(1,1.04)" font-family='"Liberation Sans", Arial, sans-serif' font-size="60" text-anchor="start">10<tspan font-size="37" dy="-25.5">-1</tspan></text>
<text transform="translate(2000.0,1522.0) scale(1,1.04)" font-family='"Liberation Sans", Arial, sans-serif' font-size="60" text-anchor="start">10<tspan font-size="37" dy="-25.5">0</tspan></text>
<text transform="translate(2234.0,1522.0) scale(1,1.04)" font-family='"Liberation Sans", Arial, sans-serif' font-size="60" text-anchor="start">10<tspan font-size="37" dy="-25.5">1</tspan></text>
<text transform="translate(1983.9,1582.1) scale(1.1,1)" font-family='"Liberation Serif", "Times New Roman", serif' font-size="73.5">φ</text>
<text transform="translate(2028.4,1581.5) scale(1,0.72)" font-family='"Liberation Sans", Arial, sans-serif' font-size="76" fill="#4a4a4a">−</text>
<text transform="translate(2070.1,1582.1) scale(1.1,1)" font-family='"Liberation Serif", "Times New Roman", serif' font-size="73.5">φ</text>
<text transform="translate(2115.2,1607.2) scale(1.08,1)" font-family='"Liberation Sans", Arial, sans-serif' font-size="45">c</text>
<text transform="translate(1606.5,1395.6) rotate(-90)" font-family='"Liberation Sans", Arial, sans-serif' font-size="77">σ</text>
<text transform="translate(1606.5,1321.4) rotate(-90)" font-family='"Liberation Sans", Arial, sans-serif' font-size="84">(S·cm</text>
<text transform="translate(1569.3,1101.8) rotate(-90)" font-family='"Liberation Sans", Arial, sans-serif' font-size="84">-1</text>
<text transform="translate(1606.5,1022.1) rotate(-90)" font-family='"Liberation Sans", Arial, sans-serif' font-size="84">)</text>
</svg></body></html>
